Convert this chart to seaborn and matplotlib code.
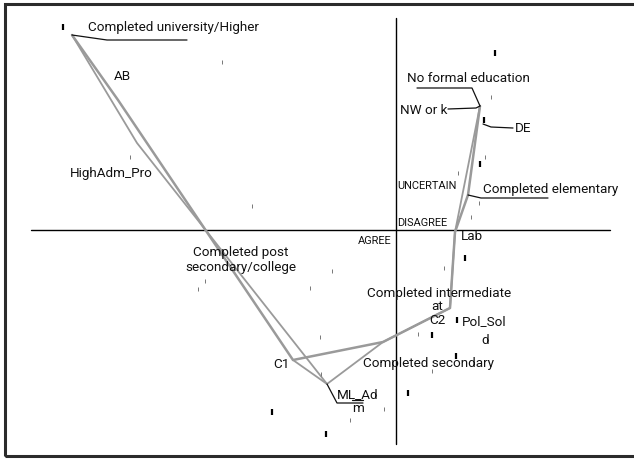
import matplotlib
matplotlib.use("Agg")
import matplotlib.pyplot as plt
from matplotlib import font_manager
from matplotlib.patches import Rectangle
import pandas as pd
import seaborn as sns

# Category coordinates on the two principal dimensions
education = ["Completed university/Higher", "Completed secondary", "Completed intermediate",
             "Completed elementary", "No formal education"]
education_dim1 = [-1.620, -0.065, 0.270, 0.360, 0.420]
education_dim2 = [0.975, -0.560, -0.390, 0.175, 0.620]

social_class = ["AB", "C1", "C2", "DE"]
class_dim1 = [-1.390, -0.515, 0.270, 0.440]
class_dim2 = [0.650, -0.650, -0.390, 0.540]

occupation = ["HighAdm_Pro", "ML_Adm", "Pol_Sold", "Lab", "NW or k"]
occupation_dim1 = [-1.295, -0.345, 0.270, 0.295, 0.420]
occupation_dim2 = [0.435, -0.770, -0.390, -0.010, 0.620]

# Profile trajectories joining the categories
path_a_dim1 = [-1.620, -1.390, -0.515, -0.065, 0.270, 0.295, 0.360, 0.420]
path_a_dim2 = [0.975, 0.650, -0.650, -0.560, -0.390, -0.010, 0.175, 0.620]
path_b_dim1 = [-1.620, -1.295, -0.345, -0.065, 0.270, 0.295, 0.420]
path_b_dim2 = [0.975, 0.435, -0.770, -0.560, -0.390, -0.010, 0.620]
path_c_dim1 = [-0.515, -0.345]
path_c_dim2 = [-0.650, -0.770]

# Individual response points
strong_dim1 = [-1.665, 0.495, 0.440, 0.420, 0.345, 0.305, 0.180, 0.300, 0.060, -0.620, -0.350]
strong_dim2 = [1.015, 0.885, 0.550, 0.330, -0.140, -0.450, -0.525, -0.630, -0.815, -0.910, -1.020]
weak_dim1 = [-0.870, -1.330, -0.720, 0.475, 0.445, 0.310, 0.415, 0.375, -0.955, -0.990,
             -0.430, -0.320, -0.380, 0.240, 0.110, 0.180, -0.060, -0.230, -0.375]
weak_dim2 = [0.840, 0.365, 0.120, 0.665, 0.365, 0.285, 0.135, 0.065, -0.255, -0.295,
             -0.290, -0.205, -0.535, -0.190, -0.520, -0.705, -0.895, -0.950, -0.720]

sns.set_theme(style="white")
available = {f.name for f in font_manager.fontManager.ttflist}
narrow = "Liberation Sans Narrow" if "Liberation Sans Narrow" in available else "Roboto"
plt.rcParams["font.family"] = [narrow, "DejaVu Sans"]

fig = plt.figure(figsize=(6.34, 4.59), dpi=100)
ax = fig.add_axes([0, 0, 1, 1])
ax.set_xlim(-1.98, 1.19)
ax.set_ylim(-1.145, 1.15)
ax.axis("off")

# Outer frame
fig.patches.append(Rectangle((5 / 634, 3 / 459), 1.2, 452 / 459, transform=fig.transFigure,
                             fill=False, lw=2.2, ec="#2b2b2b", zorder=10))

# Reference axes through the origin
ax.plot([-1.825, 1.07], [0, 0], color="black", lw=1.0, zorder=1)
ax.plot([0, 0], [-1.07, 1.06], color="black", lw=1.0, zorder=1)

gray = "#9a9a9a"
for xs, ys, lw in [(path_a_dim1, path_a_dim2, 1.8), (path_b_dim1, path_b_dim2, 1.3),
                   (path_c_dim1, path_c_dim2, 1.3)]:
    df = pd.DataFrame({"d1": xs, "d2": ys})
    sns.lineplot(data=df, x="d1", y="d2", sort=False, estimator=None, color=gray, lw=lw,
                 ax=ax, zorder=2)

sns.scatterplot(x=strong_dim1, y=strong_dim2, marker="|", s=14, linewidth=1.6,
                color="black", ax=ax, zorder=3)
sns.scatterplot(x=weak_dim1, y=weak_dim2, marker="|", s=9, linewidth=0.7,
                color="#777777", ax=ax, zorder=3)
ax.set_xlim(-1.98, 1.19)
ax.set_ylim(-1.145, 1.15)
ax.set_xlabel("")
ax.set_ylabel("")

fs = 9.7
small = 7.9
labels = [
    ("Completed university/Higher", -1.54, 1.015, "left", fs),
    ("AB", -1.37, 0.765, "center", fs),
    ("HighAdm_Pro", -1.63, 0.285, "left", fs),
    ("No formal education", 0.055, 0.76, "left", fs),
    ("NW or k", 0.02, 0.60, "left", fs),
    ("DE", 0.595, 0.51, "left", fs),
    ("UNCERTAIN", 0.005, 0.22, "left", small),
    ("Completed elementary", 0.435, 0.20, "left", fs),
    ("DISAGREE", 0.005, 0.035, "left", small),
    ("AGREE", -0.19, -0.055, "left", small),
    ("Lab", 0.325, -0.035, "left", fs),
    ("Completed post\nsecondary/college", -0.775, -0.15, "center", fs),
    ("Completed intermediate", -0.145, -0.315, "left", fs),
    ("at", 0.205, -0.38, "center", fs),
    ("C2", 0.205, -0.45, "center", fs),
    ("Pol_Sol", 0.33, -0.46, "left", fs),
    ("d", 0.445, -0.55, "center", fs),
    ("Completed secondary", -0.165, -0.67, "left", fs),
    ("C1", -0.575, -0.675, "center", fs),
    ("ML_Ad", -0.295, -0.825, "left", fs),
    ("m", -0.19, -0.895, "center", fs),
]
for text, x, y, ha, size in labels:
    ax.text(x, y, text, ha=ha, va="center", fontsize=size, color="#111111",
            linespacing=1.15, zorder=4)

# Leader lines from labels to their categories
leaders = [
    ([-1.62, -1.445, -1.045], [0.975, 0.95, 0.95]),
    ([0.105, 0.38, 0.42], [0.71, 0.71, 0.62]),
    ([0.26, 0.40, 0.42], [0.605, 0.61, 0.62]),
    ([0.435, 0.475, 0.585], [0.53, 0.515, 0.51]),
    ([0.36, 0.425, 0.76], [0.175, 0.16, 0.16]),
    ([-0.345, -0.295, -0.165], [-0.77, -0.865, -0.865]),
    ([-0.22, -0.165], [-0.85, -0.85]),
]
for xs, ys in leaders:
    ax.plot(xs, ys, color="#111111", lw=0.9, zorder=4)

fig.savefig("out.png", dpi=100)
